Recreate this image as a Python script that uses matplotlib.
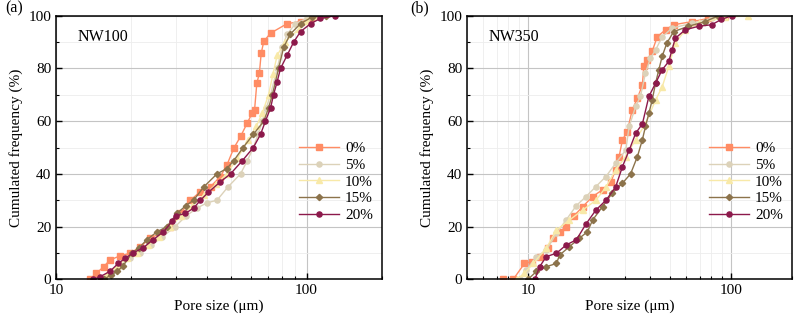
import numpy as np
import matplotlib.pyplot as plt
from matplotlib.ticker import LogLocator, NullFormatter, MultipleLocator

plt.rcParams['font.family'] = ['Liberation Serif', 'DejaVu Serif']
plt.rcParams['mathtext.fontset'] = 'stix'

labels = ['0%', '5%', '10%', '15%', '20%']
colors = ['#FF8C64', '#DCD2B9', '#F8E9A8', '#8C734B', '#8C194B']
markers = ['s', 'o', '^', 'D', 'o']

# NW100 (a): pore size (um), cumulated frequency (%)
a0_x = [13.7, 14.5, 15.5, 16.4, 18.0, 19.8, 21.7, 23.8, 26.1, 28.6, 31.4, 34.4, 37.7, 41.4, 45.3,
        48.1, 51.2, 54.5, 57.9, 60.6, 62.0, 63.3, 64.8, 65.9, 67.5, 71.8, 83.6, 94.6, 103.8, 110]
a0_y = [0, 2.3, 4.8, 7.3, 8.9, 9.9, 12.4, 15.6, 17.5, 20, 25, 30, 33.3, 35.2, 39,
        43.4, 49.7, 54.2, 59.2, 63, 64.3, 74.4, 78.2, 85.8, 90.3, 93.4, 97, 97.8, 99.1, 100]
a5_x = [15.5, 16.6, 18.0, 19.8, 21.7, 24.0, 26.5, 29.9, 33.0, 36.5, 40.0, 43.9, 48.5, 54.5, 58.0,
        61.3, 64.0, 66.6, 69.0, 71.8, 76.3, 80.0, 83.6, 90.3, 100, 110]
a5_y = [0, 2, 5, 8, 10, 13, 16, 20, 24, 27, 29, 30, 35, 40, 45,
        50, 55, 60, 65, 70, 80, 88, 93, 97, 99, 100]
a10_x = [15.0, 16.0, 17.5, 19.2, 21.0, 23.2, 25.8, 28.6, 31.5, 35.0, 39.0, 43.5, 48.0, 53.0, 58.6,
         63.0, 66.5, 70.5, 73.5, 76.3, 82.0, 93.0, 100, 106]
a10_y = [0, 2, 5, 8, 10, 13, 16, 20, 24, 28, 32, 36, 40, 46, 53,
         58, 63, 70, 78, 85, 90, 95, 98, 100]
a15_x = [15.5, 16.5, 17.5, 18.5, 20.1, 21.5, 23.0, 25.3, 27.7, 30.4, 33.0, 35.4, 38.8, 43.9, 48.0,
         51.2, 55.8, 61.3, 67.5, 70.5, 73.0, 77.3, 81.0, 86.0, 94.6, 105, 120]
a15_y = [0, 1.5, 3, 5, 10, 12, 15, 18, 20, 25, 28, 30, 35, 40, 42,
         45, 50, 55, 60, 65, 70, 80, 88, 93, 97, 99.5, 100]
a20_x = [14.1, 15.0, 16.4, 17.7, 18.9, 20.3, 22.3, 24.4, 26.8, 29.1, 30.0, 32.8, 35.4, 37.7, 40.5,
         45.3, 49.7, 55.4, 61.3, 65.5, 68.5, 71.8, 73.8, 76.3, 78.7, 83.6, 88.8, 94.6, 103.8, 113.6, 130]
a20_y = [0, 1, 3, 6, 8, 10, 12, 15, 18, 22, 24, 25, 27, 30, 33,
         37, 40, 45, 50, 55, 60, 65, 70, 75, 80, 85, 90, 94, 97, 99, 100]

# NW350 (b)
b0_x = [7.55, 8.45, 9.6, 10.4, 11.4, 12.5, 13.2, 14.3, 15.4, 16.8, 18.6, 20.8, 23.3, 25.6, 27.0,
        28.1, 29.2, 30.8, 32.6, 34.6, 36.6, 37.2, 38.6, 40.9, 43.3, 47.6, 52.2, 64.4, 77.5, 93.4]
b0_y = [0, 0, 6, 6.7, 8.6, 11.8, 15.6, 18, 20, 24, 27.6, 31.4, 34, 37, 41.5,
        46.6, 53, 56, 64.3, 68.7, 73.8, 80.8, 83.3, 86.5, 92, 94.7, 96.6, 97.8, 99, 100]
b5_x = [9.1, 9.8, 11.0, 12.3, 13.8, 15.4, 17.3, 19.3, 21.6, 24.2, 27.0, 30.3, 31.5, 33.9, 35.8,
        37.9, 40.1, 42.5, 45.8, 51.2, 64.4, 80.3, 93.4]
b5_y = [0, 3.5, 8.6, 11, 17.5, 22.5, 28, 31.4, 35.2, 39, 44, 49, 58, 65.6, 69.4,
        78.2, 84, 87, 92, 95.3, 97.2, 99, 100]
b10_x = [8.8, 9.6, 10.6, 12.3, 13.8, 16.0, 18.6, 21.6, 24.2, 27.0, 30.3, 33.9, 37.9, 42.5, 45.8,
         49.4, 53.2, 59.6, 69.2, 93.4, 121]
b10_y = [0, 2.3, 6, 11.8, 18.7, 22.5, 26.3, 30, 35, 41.5, 46.6, 53, 59, 68, 73,
         80.8, 89.6, 94.7, 97.2, 99.4, 100]
b15_x = [10.0, 11.0, 12.3, 13.8, 14.3, 16.0, 17.9, 19.6, 20.8, 23.3, 26.0, 29.2, 32.0, 34.6, 36.6,
         37.9, 39.4, 40.9, 42.5, 44.1, 45.8, 48.3, 52.2, 61.6, 74.7, 86.6]
b15_y = [0, 3, 4.8, 6, 9.2, 12.4, 15.6, 18, 22.5, 27.6, 32.7, 36.5, 40, 46.6, 53,
         58, 63, 68, 74.4, 79.5, 84.6, 89.6, 94, 96, 97.8, 100]
b20_x = [10.8, 11.4, 12.3, 13.8, 15.4, 17.3, 19.3, 21.6, 24.2, 27.0, 29.2, 31.5, 33.9, 36.6, 39.4,
         42.5, 45.8, 49.4, 51.2, 53.2, 59.6, 69.2, 80.3, 89.6, 100.7]
b20_y = [0, 4.8, 8.6, 9.9, 13, 15, 21, 26.3, 30, 35, 42.8, 49, 55.4, 59, 69.4,
         74.4, 79.5, 82.7, 87, 91.5, 94.7, 96, 96.6, 98.6, 100]

panels = [
    ('NW100', (10, 200), [(a0_x, a0_y), (a5_x, a5_y), (a10_x, a10_y), (a15_x, a15_y), (a20_x, a20_y)]),
    ('NW350', (5, 200), [(b0_x, b0_y), (b5_x, b5_y), (b10_x, b10_y), (b15_x, b15_y), (b20_x, b20_y)]),
]

fig = plt.figure(figsize=(7.96, 3.22), dpi=100)
boxes = [[0.0704, 0.1326, 0.4095, 0.8184], [0.5867, 0.1326, 0.4083, 0.8184]]
tags = ['(a)', '(b)']
tag_x = [0.006, 0.515]

for i, (name, xlim, series) in enumerate(panels):
    ax = fig.add_axes(boxes[i])
    for (xs, ys), lab, c, m in zip(series, labels, colors, markers):
        ms = 3.7 if m != 'D' else 3.2
        ax.plot(xs, ys, color=c, marker=m, ms=ms, lw=1.0, label=lab)
    ax.set_xscale('log')
    ax.set_xlim(*xlim)
    ax.set_ylim(0, 100)
    ax.yaxis.set_major_locator(MultipleLocator(20))
    ax.yaxis.set_minor_locator(MultipleLocator(10))
    ax.xaxis.set_minor_locator(LogLocator(base=10, subs=np.arange(2, 10)))
    ax.xaxis.set_minor_formatter(NullFormatter())
    ax.set_xticks([10, 100])
    ax.set_xticklabels(['10', '100'])
    ax.grid(which='major', color='#c4c4c4', lw=0.8)
    ax.grid(which='minor', color='#ededed', lw=0.6)
    ax.set_axisbelow(True)
    ax.tick_params(which='both', direction='in', top=False, right=False, labelsize=11)
    ax.tick_params(which='major', length=4, width=1)
    ax.tick_params(which='minor', length=2.5, width=0.8)
    for s in ax.spines.values():
        s.set_linewidth(1.1)
    ax.set_xlabel('Pore size (μm)', fontsize=11, labelpad=2)
    ax.set_ylabel('Cumulated frequency (%)', fontsize=11, labelpad=4)
    ax.text(0.067, 0.92, name, transform=ax.transAxes, fontsize=11.5, va='center', ha='left')
    ax.legend(loc='center right', bbox_to_anchor=(1.0, 0.37), frameon=False, fontsize=11,
              handlelength=2.6, handletextpad=0.4, labelspacing=0.2, borderaxespad=0.2)
    fig.text(tag_x[i], 0.975, tags[i], fontsize=11.5, va='center', ha='left')

fig.savefig('out.png', dpi=100)
